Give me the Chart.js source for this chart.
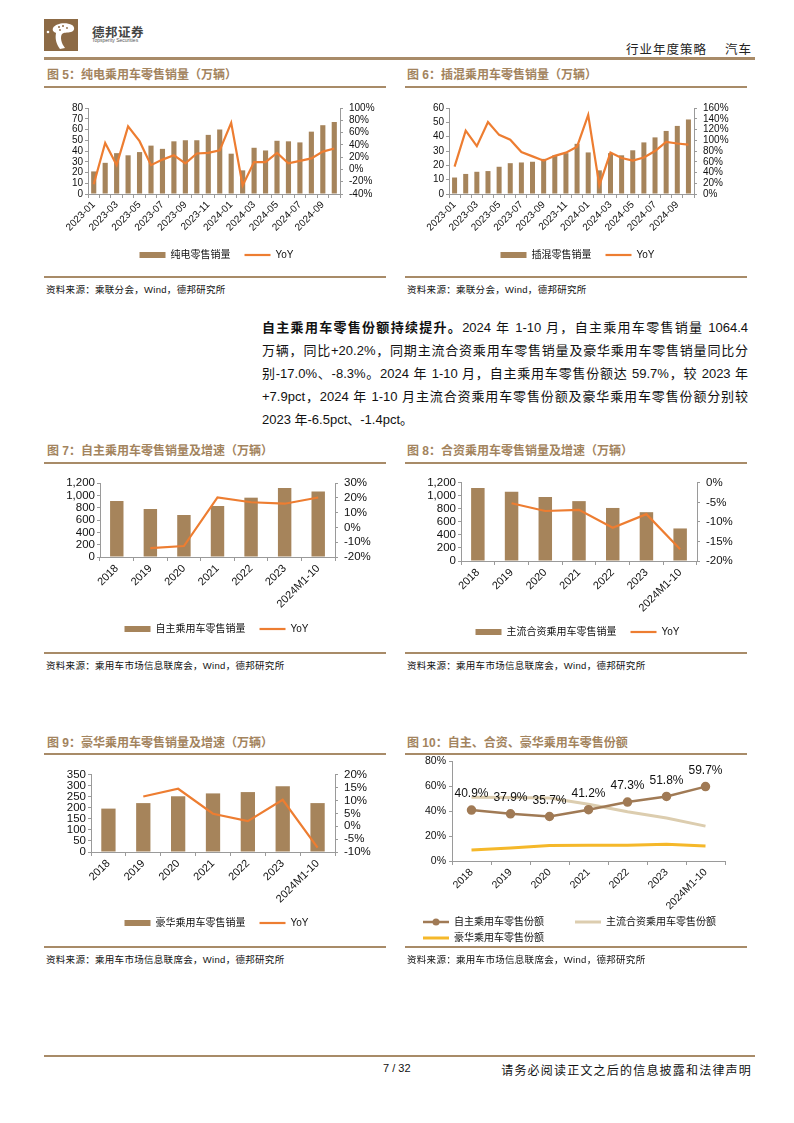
<!DOCTYPE html>
<html>
<head>
<meta charset="utf-8">
<script src="https://cdn.jsdelivr.net/npm/chart.js@4.4.0/dist/chart.umd.min.js"></script>
<style>
  body { margin: 0; background: #fff; }
  #page { position: relative; width: 794px; height: 1123px; overflow: hidden;
    font-family: "Liberation Sans", "Noto Sans CJK SC", sans-serif; color: #111; }
  .title { position: absolute; font-size: 12px; font-weight: bold; color: #a3845e; white-space: nowrap; line-height: 14px; }
  .rule { position: absolute; height: 2px; background: #a88b68; }
  .src { position: absolute; font-size: 9.5px; white-space: nowrap; line-height: 12px; letter-spacing: 0.3px; }
  .box { position: absolute; }
  .para { position: absolute; left: 262px; width: 486px; font-size: 13px; line-height: 16px; }
  .just { text-align: justify; text-align-last: justify; }
</style>
</head>
<body>
<div id="page">
  <!-- header -->
  <svg style="position:absolute;left:44px;top:19px" width="34" height="32" viewBox="0 0 34 32">
    <rect width="34" height="32" fill="#8c6a45"/>
    <path d="M9 9 C12 4 22 3 28 6 C31 8 31 12 27 13 C23 14 20 13 18 15 C16 18 17 24 21 29 L16 30 C12 25 11 19 12 14 C10 13 8 12 9 9 Z" fill="#fff"/>
    <circle cx="4" cy="13" r="1.3" fill="#fff"/>
    <circle cx="15" cy="8" r="1" fill="#8c6a45"/>
    <circle cx="19" cy="7" r="1" fill="#8c6a45"/>
    <circle cx="16" cy="11" r="0.9" fill="#8c6a45"/>
    <circle cx="23" cy="9" r="0.9" fill="#8c6a45"/>
  </svg>
  <div style="position:absolute;left:92px;top:22px;font-size:12.5px;font-weight:bold;color:#444;letter-spacing:0.5px">德邦证券</div>
  <div style="position:absolute;left:92px;top:37px;font-size:5px;color:#555">Topsperity Securities</div>
  <div style="position:absolute;right:42px;top:39px;font-size:12.5px;color:#222;white-space:nowrap;letter-spacing:1px">行业年度策略&nbsp;&nbsp;&nbsp;&nbsp;汽车</div>
  <div class="rule" style="left:44px;top:57px;width:711px;height:2.5px"></div>

  <!-- figure 5 -->
  <div class="title" style="left:47px;top:68px">图 5：纯电乘用车零售销量（万辆）</div>
  <div class="rule" style="left:44px;top:86px;width:342px"></div>
  <div class="box" style="left:44px;top:96px"><canvas id="c5" width="345" height="174"></canvas></div>
  <div class="rule" style="left:44px;top:276px;width:342px"></div>
  <div class="src" style="left:46px;top:284px">资料来源：乘联分会，Wind，德邦研究所</div>

  <!-- figure 6 -->
  <div class="title" style="left:407px;top:68px">图 6：插混乘用车零售销量（万辆）</div>
  <div class="rule" style="left:405px;top:86px;width:342px"></div>
  <div class="box" style="left:405px;top:96px"><canvas id="c6" width="345" height="174"></canvas></div>
  <div class="rule" style="left:405px;top:276px;width:342px"></div>
  <div class="src" style="left:407px;top:284px">资料来源：乘联分会，Wind，德邦研究所</div>

  <!-- paragraph -->
  <div class="para just" style="top:320px"><b>自主乘用车零售份额持续提升。</b>2024 年 1-10 月，自主乘用车零售销量 1064.4</div>
  <div class="para just" style="top:343px">万辆，同比+20.2%，同期主流合资乘用车零售销量及豪华乘用车零售销量同比分</div>
  <div class="para just" style="top:366px">别-17.0%、-8.3%。2024 年 1-10 月，自主乘用车零售份额达 59.7%，较 2023 年</div>
  <div class="para just" style="top:389px">+7.9pct，2024 年 1-10 月主流合资乘用车零售份额及豪华乘用车零售份额分别较</div>
  <div class="para" style="top:412px">2023 年-6.5pct、-1.4pct。</div>

  <!-- figure 7 -->
  <div class="title" style="left:47px;top:444px">图 7：自主乘用车零售销量及增速（万辆）</div>
  <div class="rule" style="left:44px;top:462px;width:342px"></div>
  <div class="box" style="left:44px;top:470px"><canvas id="c7" width="345" height="174"></canvas></div>
  <div class="rule" style="left:44px;top:652px;width:342px"></div>
  <div class="src" style="left:46px;top:660px">资料来源：乘用车市场信息联席会，Wind，德邦研究所</div>

  <!-- figure 8 -->
  <div class="title" style="left:407px;top:444px">图 8：合资乘用车零售销量及增速（万辆）</div>
  <div class="rule" style="left:405px;top:462px;width:342px"></div>
  <div class="box" style="left:405px;top:470px"><canvas id="c8" width="345" height="177"></canvas></div>
  <div class="rule" style="left:405px;top:652px;width:342px"></div>
  <div class="src" style="left:407px;top:660px">资料来源：乘用车市场信息联席会，Wind，德邦研究所</div>

  <!-- figure 9 -->
  <div class="title" style="left:47px;top:736px">图 9：豪华乘用车零售销量及增速（万辆）</div>
  <div class="rule" style="left:44px;top:753px;width:342px"></div>
  <div class="box" style="left:44px;top:762px"><canvas id="c9" width="345" height="176"></canvas></div>
  <div class="rule" style="left:44px;top:946px;width:342px"></div>
  <div class="src" style="left:46px;top:954px">资料来源：乘用车市场信息联席会，Wind，德邦研究所</div>

  <!-- figure 10 -->
  <div class="title" style="left:407px;top:736px">图 10：自主、合资、豪华乘用车零售份额</div>
  <div class="rule" style="left:405px;top:753px;width:342px"></div>
  <div class="box" style="left:405px;top:752px"><canvas id="c10" width="345" height="201"></canvas></div>
  <div class="rule" style="left:405px;top:946px;width:342px"></div>
  <div class="src" style="left:407px;top:954px">资料来源：乘用车市场信息联席会，Wind，德邦研究所</div>

  <!-- footer -->
  <div class="rule" style="left:44px;top:1055px;width:711px"></div>
  <div style="position:absolute;left:383px;top:1062px;font-size:11px">7 / 32</div>
  <div style="position:absolute;right:42px;top:1061px;font-size:12px;white-space:nowrap;letter-spacing:1.2px">请务必阅读正文之后的信息披露和法律声明</div>
</div>

<script>
// monthly data, figures 5 & 6
const months = ["2023-01", "2023-02", "2023-03", "2023-04", "2023-05", "2023-06", "2023-07", "2023-08",
  "2023-09", "2023-10", "2023-11", "2023-12", "2024-01", "2024-02", "2024-03", "2024-04", "2024-05",
  "2024-06", "2024-07", "2024-08", "2024-09", "2024-10"];
const bevSales = [21, 29, 38, 36, 39, 45, 42, 49, 50, 50, 55, 60, 37.5, 22, 43, 40.5, 49.5, 49, 48, 58, 64, 67];
const bevYoy = [-24, 43, 7, 70, 46, 7, 16, 23, 10, 26, 27, 31, 76, -26, 12, 12, 27, 10, 14, 18, 29, 34];
const phevSales = [11.5, 14, 15.5, 16, 19, 21.5, 22, 22.5, 24.5, 27, 28.5, 35, 29, 16.5, 28.5, 27, 30.5, 36, 39.5, 44, 47.5, 52];
const phevYoy = [51, 118, 89, 134, 110, 101, 78, 70, 62, 71, 77, 88, 147, 16, 77, 67, 62, 68, 80, 97, 94, 92];

// yearly data, figures 7 - 10
const years = ["2018", "2019", "2020", "2021", "2022", "2023", "2024M1-10"];
const ownSales = [908, 778, 681, 827, 962, 1119, 1064];
const ownYoy = [null, -14.0, -12.6, 20.3, 17.0, 16.0, 20.2];
const jvSales = [1120, 1065, 985, 920, 815, 750, 500];
const jvYoy = [null, -5.2, -7.2, -6.9, -11.5, -8.0, -17.0];
const luxSales = [197, 222, 253, 266, 272, 299, 222];
const luxYoy = [null, 11.6, 14.6, 4.9, 2.0, 10.3, -8.3];
const ownShare = [40.9, 37.9, 35.7, 41.2, 47.3, 51.8, 59.7];
const jvShare = [51.2, 51.0, 50.5, 45.5, 39.5, 34.5, 28.0];
const luxShare = [8.8, 10.5, 12.5, 12.6, 12.6, 13.4, 12.0];

const BROWN = "#a6845b";
const ORANGE = "#ed7d31";
const AXIS = "#9a9a9a";
const OWN = "#a07a55";

Chart.defaults.font.family = '"Liberation Sans", "Noto Sans CJK SC", sans-serif';
Chart.defaults.color = "#111";
Chart.defaults.animation = false;

const pct = (v) => v + "%";

function axisY(pos, min, max, step, width, fontSize, pad, cb) {
  const ticks = { stepSize: step, autoSkip: false, padding: pad, font: { size: fontSize } };
  if (cb) ticks.callback = cb;
  return {
    position: pos, min: min, max: max,
    grid: { drawOnChartArea: false, tickLength: 3, color: AXIS },
    border: { color: AXIS },
    ticks: ticks,
    afterFit: (s) => { s.width = width; }
  };
}

function axisX(height, fontSize, cb) {
  const ticks = { minRotation: 45, maxRotation: 45, autoSkip: false, padding: 1, font: { size: fontSize } };
  if (cb) ticks.callback = cb;
  return {
    offset: true,
    grid: { offset: true, drawOnChartArea: false, tickLength: 4, color: AXIS },
    border: { color: AXIS },
    ticks: ticks,
    afterFit: (s) => { s.height = height; }
  };
}

// bar + YoY line chart
function comboChart(id, labels, bars, yoy, barLabel, o) {
  new Chart(document.getElementById(id), {
    type: "bar",
    data: {
      labels: labels,
      datasets: [
        { label: barLabel, data: bars, yAxisID: "y", backgroundColor: BROWN, barPercentage: o.barPct,
          categoryPercentage: 1, pointStyle: "rect", order: 2 },
        { type: "line", label: "YoY", data: yoy, yAxisID: "y1", borderColor: ORANGE, backgroundColor: ORANGE,
          borderWidth: 2.2, pointRadius: 0, pointStyle: "line", tension: 0, order: 1 }
      ]
    },
    options: {
      responsive: false,
      layout: { padding: { top: o.top, left: 0, right: 0 } },
      plugins: {
        legend: {
          position: "bottom",
          labels: { usePointStyle: true, pointStyleWidth: 26, boxHeight: 6, padding: 14, font: { size: 10 },
            sort: (a, b) => a.datasetIndex - b.datasetIndex }
        },
        tooltip: { enabled: false }
      },
      scales: {
        x: axisX(o.xH, o.xFont, o.xCb),
        y: axisY("left", o.l[0], o.l[1], o.l[2], o.lw, o.font, 2, o.lCb),
        y1: axisY("right", o.r[0], o.r[1], o.r[2], o.rw, o.font, 6, pct)
      }
    }
  });
}

const everyOther = function (v, i) { return i % 2 === 0 ? this.getLabelForValue(v) : ""; };
const comma = (v) => v.toLocaleString("en-US");

comboChart("c5", months, bevSales, bevYoy, "纯电零售销量",
  { barPct: 0.45, top: 10, xH: 42, xFont: 10, font: 10, xCb: everyOther,
    l: [0, 80, 10], lw: 44, r: [-40, 100, 20], rw: 49 });
comboChart("c6", months, phevSales, phevYoy, "插混零售销量",
  { barPct: 0.45, top: 10, xH: 42, xFont: 10, font: 10, xCb: everyOther,
    l: [0, 60, 10], lw: 44, r: [0, 160, 20], rw: 56 });
comboChart("c7", years, ownSales, ownYoy, "自主乘用车零售销量",
  { barPct: 0.4, top: 13, xH: 53, xFont: 11, font: 11.5, lCb: comma,
    l: [0, 1200, 200], lw: 56, r: [-20, 30, 10], rw: 54 });
comboChart("c8", years, jvSales, jvYoy, "主流合资乘用车零售销量",
  { barPct: 0.4, top: 11, xH: 52, xFont: 11, font: 11.5, lCb: comma,
    l: [0, 1200, 200], lw: 56, r: [-20, 0, 5], rw: 53 });
comboChart("c9", years, luxSales, luxYoy, "豪华乘用车零售销量",
  { barPct: 0.41, top: 12, xH: 52, xFont: 11, font: 11.5,
    l: [0, 350, 50], lw: 47, r: [-10, 20, 5], rw: 54 });

// legend swatch: line with a round marker
const dotLine = document.createElement("canvas");
dotLine.width = 26; dotLine.height = 8;
(function () {
  const g = dotLine.getContext("2d");
  g.strokeStyle = OWN; g.fillStyle = OWN; g.lineWidth = 2.5;
  g.beginPath(); g.moveTo(0, 4); g.lineTo(26, 4); g.stroke();
  g.beginPath(); g.arc(13, 4, 3.5, 0, Math.PI * 2); g.fill();
})();

// share labels above the 自主 line
const shareLabels = {
  id: "shareLabels",
  afterDatasetsDraw(chart) {
    const ctx = chart.ctx;
    const meta = chart.getDatasetMeta(0);
    ctx.save();
    ctx.font = '12px "Liberation Sans"';
    ctx.fillStyle = "#111";
    ctx.textAlign = "center";
    ctx.textBaseline = "middle";
    meta.data.forEach((pt, i) => {
      ctx.fillText(ownShare[i].toFixed(1) + "%", pt.x, pt.y - 16);
    });
    ctx.restore();
  }
};

new Chart(document.getElementById("c10"), {
  type: "line",
  data: {
    labels: years,
    datasets: [
      { label: "自主乘用车零售份额\u3000\u3000\u2002", data: ownShare, borderColor: OWN, backgroundColor: OWN,
        borderWidth: 2.5, pointRadius: 3.5, pointStyle: "circle", tension: 0 },
      { label: "主流合资乘用车零售份额", data: jvShare, borderColor: "#dccdaf", backgroundColor: "#dccdaf",
        borderWidth: 3, pointRadius: 0, tension: 0 },
      { label: "豪华乘用车零售份额", data: luxShare, borderColor: "#f5b82a", backgroundColor: "#f5b82a",
        borderWidth: 3, pointRadius: 0, tension: 0 }
    ]
  },
  options: {
    responsive: false,
    layout: { padding: { top: 9, left: 12, right: 25 } },
    plugins: {
      legend: {
        position: "bottom", align: "start",
        labels: {
          usePointStyle: true, pointStyleWidth: 26, boxHeight: 6, padding: 6, font: { size: 10 },
          generateLabels: (chart) => Chart.defaults.plugins.legend.labels.generateLabels(chart)
            .map((l) => Object.assign(l, { pointStyle: l.datasetIndex === 0 ? dotLine : "line" }))
        }
      },
      tooltip: { enabled: false }
    },
    scales: {
      x: axisX(50, 10.5),
      y: axisY("left", 0, 80, 20, 35, 10.5, 3, pct)
    }
  },
  plugins: [shareLabels]
});
</script>
</body>
</html>
